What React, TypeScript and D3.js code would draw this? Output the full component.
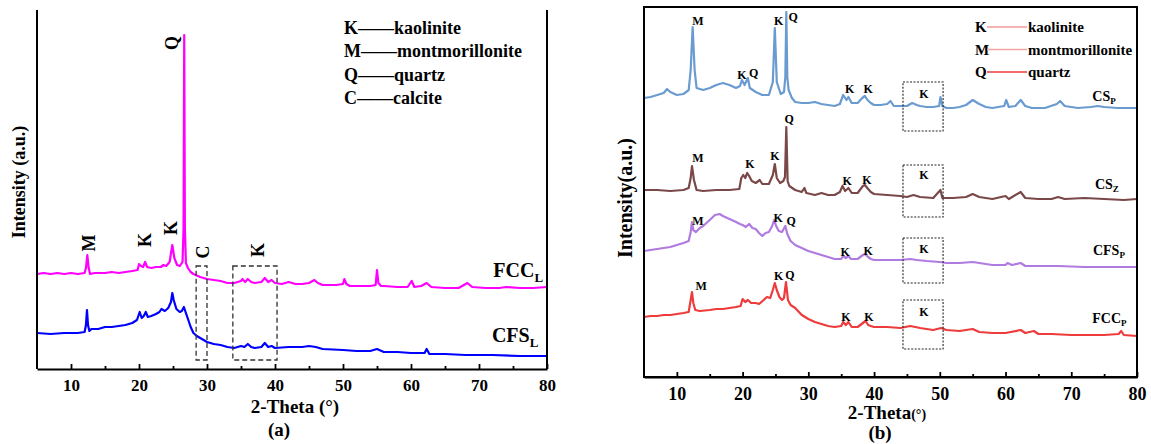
import React, { useEffect, useRef } from "react";
import * as d3 from "d3";

type Pt = [number, number];

const FONT = "'Times New Roman', 'Liberation Serif', serif";

// ---- panel (a): 2-theta (deg) vs intensity (a.u., stacked offset included)
const fccL: Pt[] = [
  [5, 95], [6, 96], [7, 95], [8, 96], [9, 95], [10, 96], [11, 95], [12, 96],
  [12.2, 101], [12.4, 114], [12.6, 101], [12.8, 95], [13.5, 96], [15, 96], [16, 97],
  [17, 96], [18, 97], [19, 98], [19.8, 99], [20.0, 105], [20.3, 103], [20.6, 102],
  [20.9, 107], [21.2, 102], [21.8, 101], [22.5, 102], [23.2, 102], [23.6, 104], [24, 103],
  [24.5, 107], [24.9, 124], [25.2, 111], [25.6, 104], [26.0, 103], [26.4, 107],
  [26.55, 140], [26.65, 334], [26.75, 140], [26.9, 106], [27.2, 101], [27.6, 97],
  [28, 95], [29, 92], [30, 90], [31, 89], [32, 88], [33, 86], [34, 86], [35, 88],
  [35.2, 90], [35.6, 87], [36, 90], [36.5, 87], [37, 86], [38, 87], [38.5, 91], [39, 87],
  [39.5, 89], [40, 86], [41, 85], [42, 87], [43, 85], [44, 85], [45, 86], [45.8, 89],
  [46.3, 86], [47, 84], [48, 84], [49, 84], [50, 85], [50.2, 90], [50.5, 85], [51, 83],
  [52, 83], [53, 83], [54, 83], [54.8, 84], [55, 99], [55.2, 86], [55.6, 83], [56, 83],
  [58, 82], [59.5, 82], [60.1, 88], [60.5, 82], [61.5, 83], [62.3, 86], [63, 82],
  [65, 81], [67, 81], [68.3, 86], [69, 82], [71, 81], [73, 81], [74, 82], [76, 81],
  [78, 81], [80, 82],
];

const cfsL: Pt[] = [
  [5, 36], [7, 35], [9, 36], [11, 36], [12, 37], [12.2, 44], [12.35, 59], [12.5, 44],
  [12.7, 38], [13, 40], [14, 40], [15, 42], [16, 42], [17, 43], [18, 44], [19, 46],
  [19.7, 49], [20.1, 57], [20.4, 51], [20.7, 53], [21.0, 57], [21.3, 52], [21.8, 53],
  [22.5, 55], [23, 57], [23.3, 60], [23.8, 58], [24.3, 61], [24.7, 67], [24.9, 76],
  [25.1, 69], [25.5, 60], [26, 57], [26.3, 58], [26.6, 62], [26.9, 56], [27.2, 50],
  [27.6, 42], [28, 36], [28.5, 33], [29, 31], [30, 27], [31, 25], [32, 24], [33, 22],
  [34, 21], [35, 23], [35.5, 22], [36, 25], [36.5, 22], [37, 21], [38, 22], [38.5, 26],
  [39, 22], [39.5, 23], [40, 21], [42, 22], [44, 22], [45, 23], [46, 22], [47, 20],
  [50, 19], [52, 18], [54, 18], [55, 20], [56, 17], [58, 17], [60, 16], [62, 16],
  [62.3, 20], [62.7, 15], [65, 15], [68, 14], [72, 14], [76, 13], [80, 13],
];

// ---- panel (b)
const csP: Pt[] = [
  [5, 279], [6, 280], [7, 282], [8, 284], [8.5, 288], [9, 285], [10, 282], [11, 283],
  [11.8, 287], [12.1, 307], [12.4, 350], [12.7, 307], [13.0, 289], [14, 287], [15, 289],
  [16, 292], [17, 294], [18, 292], [19, 289], [19.6, 291], [19.9, 297], [20.3, 292],
  [20.8, 299], [21.1, 289], [22, 285], [23, 282], [24, 282], [24.6, 295], [24.9, 349],
  [25.2, 295], [25.8, 283], [26.3, 285], [26.5, 300], [26.65, 365], [26.8, 300],
  [27.0, 287], [27.5, 279], [28, 275], [29, 274], [30, 274], [31, 275], [32, 273],
  [33, 272], [34, 271], [34.8, 273], [35.3, 282], [35.8, 277], [36.1, 280], [36.6, 274],
  [37.5, 274], [38.2, 279], [38.6, 281], [39, 277], [39.5, 274], [40, 272], [41, 272],
  [42, 273], [42.5, 276], [43, 271], [44, 271], [45, 271], [45.8, 274], [46.5, 272],
  [47, 271], [48, 270], [49, 270], [49.9, 271], [50.1, 280], [50.4, 271], [51, 269],
  [52, 269], [53, 270], [54, 272], [55, 277], [56, 273], [57, 270], [58, 269],
  [59.8, 271], [60.1, 277], [60.5, 270], [61.5, 271], [62.3, 277], [63, 271], [64, 269],
  [66, 269], [67.8, 273], [68.3, 276], [69, 271], [71, 269], [73, 270], [74, 271],
  [75, 270], [77, 269], [80, 269],
];

const csZ: Pt[] = [
  [5, 187], [7, 187], [9, 186], [11, 187], [11.8, 189], [12.1, 199], [12.3, 211],
  [12.6, 197], [13, 187], [14, 186], [16, 187], [18, 187], [19.5, 188], [19.8, 199],
  [20.1, 202], [20.4, 199], [20.7, 204], [21.0, 201], [21.4, 196], [22, 194], [22.6, 197],
  [23, 193], [24, 193], [24.6, 202], [24.9, 213], [25.2, 199], [25.7, 194], [26.2, 196],
  [26.45, 200], [26.65, 250], [26.85, 196], [27.1, 191], [28, 187], [29, 185], [29.4, 189],
  [29.7, 184], [31, 182], [32, 184], [33, 182], [34, 182], [34.8, 185], [35.2, 191],
  [35.6, 186], [36.1, 189], [36.6, 184], [37.5, 184], [38.3, 191], [38.6, 192], [39.1, 188],
  [39.5, 185], [40, 183], [42, 182], [44, 181], [45, 180], [46, 182], [47, 180], [49, 179],
  [50.1, 187], [50.4, 179], [52, 179], [54, 180], [55, 183], [56, 180], [58, 178],
  [60, 181], [60.5, 178], [62.3, 185], [63, 179], [65, 178], [67, 178], [68, 180],
  [69, 178], [72, 179], [75, 178], [78, 177], [80, 178],
];

const cfsP: Pt[] = [
  [5, 126], [6, 127], [7, 128], [8, 129], [9, 130], [10, 132], [11, 134], [11.8, 136],
  [12.1, 145], [12.3, 155], [12.5, 147], [12.9, 145], [13.5, 149], [14, 151], [15, 157],
  [15.8, 162], [16.5, 163], [17, 161], [18, 158], [19, 155], [19.6, 153], [20, 152],
  [20.5, 150], [21, 153], [21.5, 149], [22, 148], [22.5, 144], [23, 141], [23.5, 144],
  [24, 145], [24.5, 151], [24.8, 157], [25.1, 151], [25.5, 146], [26, 145], [26.5, 151],
  [26.8, 143], [27.3, 136], [28, 132], [29, 129], [30, 126], [31, 124], [32, 122],
  [33, 120], [34, 118], [35, 118], [35.3, 121], [35.7, 119], [36.1, 121], [36.5, 118],
  [37.5, 118], [38.3, 122], [38.6, 123], [39.1, 120], [39.5, 118], [40, 117], [42, 117],
  [44, 117], [45.5, 118], [46.5, 117], [48, 116], [50, 115], [51, 114], [53, 114],
  [55, 115], [56, 114], [58, 112], [60, 112], [60.3, 114], [61, 112], [62.3, 114],
  [63, 111], [65, 111], [68, 111], [72, 110], [76, 110], [80, 110],
];

const fccP: Pt[] = [
  [5, 60], [6, 61], [7, 61], [8, 62], [9, 62], [10, 63], [11, 64], [11.8, 65], [12.1, 77],
  [12.3, 85], [12.5, 74], [12.8, 67], [13.5, 66], [15, 67], [16, 68], [17, 68], [18, 69],
  [19, 70], [19.7, 71], [20, 78], [20.4, 75], [20.8, 77], [21.3, 74], [22, 74], [22.5, 73],
  [23.2, 77], [23.7, 80], [24.2, 79], [24.6, 87], [24.9, 94], [25.2, 87], [25.6, 80],
  [26, 77], [26.3, 79], [26.6, 95], [26.9, 77], [27.3, 72], [28, 69], [29, 62], [30, 58],
  [31, 55], [32, 53], [33, 51], [34, 50], [35, 51], [35.3, 55], [35.7, 52], [36.1, 55],
  [36.6, 50], [37.5, 50], [38.3, 54], [38.7, 56], [39.1, 52], [39.5, 51], [40, 50],
  [42, 50], [44, 49], [45.5, 51], [47, 49], [49, 47], [50.2, 49], [51, 47], [53, 46],
  [55, 48], [56, 45], [58, 44], [60, 44], [62.3, 47], [63, 44], [64.3, 46], [65, 43],
  [67, 43], [70, 42], [72, 42], [75, 42], [77.2, 43], [77.6, 46], [78, 42], [80, 41],
];

const xTicks = [10, 20, 30, 40, 50, 60, 70, 80];
const xMinorTicks = [15, 25, 35, 45, 55, 65, 75];

// peak labels [text, 2-theta, intensity]
const peaksA: [string, number, number][] = [
  ["M", 12.65, 126], ["K", 20.9, 129], ["K", 24.7, 141], ["Q", 24.85, 326],
  ["C", 29.4, 117], ["K", 37.5, 119],
];
const peaksB: [string, number, number][] = [
  ["M", 13.2, 352], ["K", 19.9, 298], ["Q", 21.7, 300], ["K", 25.5, 352], ["Q", 27.7, 356],
  ["K", 36.3, 284], ["K", 39.1, 284], ["K", 47.6, 279],
  ["M", 13.2, 215], ["K", 21.1, 209], ["K", 24.9, 217], ["Q", 27.1, 254],
  ["K", 35.9, 192], ["K", 38.9, 193], ["K", 47.6, 198],
  ["M", 13.2, 152], ["K", 25.4, 155], ["Q", 27.4, 152],
  ["K", 35.6, 121], ["K", 39.1, 122], ["K", 47.6, 124],
  ["M", 13.7, 87], ["K", 25.5, 97], ["Q", 27.2, 98],
  ["K", 35.7, 56], ["K", 39.2, 56], ["K", 47.6, 61],
];

// highlighted regions [x0, x1, y0, y1]
const boxesA: [number, number, number, number][] = [
  [28.4, 30, 9, 103],
  [33.8, 40.3, 9, 103],
];
const boxesB: [number, number, number, number][] = [
  [44.4, 50.5, 246, 295],
  [44.4, 50.5, 160, 212],
  [44.4, 50.5, 94, 139],
  [44.4, 50.5, 28, 77],
];

const legendA = ["K——kaolinite", "M——montmorillonite", "Q——quartz", "C——calcite"];
const legendBKeys = ["K", "M", "Q"];
const legendBNames = ["kaolinite", "montmorillonite", "quartz"];
const legendBColors = ["#f29a9a", "#f2a4a4", "#f03c3c"];

const seriesA = [
  { data: fccL, color: "#ff00ff", name: "FCC", sub: "L", lx: 72.1, ly: 92 },
  { data: cfsL, color: "#0000ff", name: "CFS", sub: "L", lx: 71.9, ly: 27 },
];
const seriesB = [
  { data: csP, color: "#6a9bd0", name: "CS", sub: "P", lx: 73.2, ly: 276 },
  { data: csZ, color: "#7a4848", name: "CS", sub: "Z", lx: 73.6, ly: 188 },
  { data: cfsP, color: "#b07be0", name: "CFS", sub: "P", lx: 73.3, ly: 122 },
  { data: fccP, color: "#ee3b3b", name: "FCC", sub: "P", lx: 73.2, ly: 54 },
];

const App = () => {
  const ref = useRef<SVGSVGElement>(null);

  useEffect(() => {
    draw();
  }, []);

  const bottomAxis = (svg: any, x: any, y0: number, fs: number, pad: number) => {
    const g = svg
      .append("g")
      .attr("transform", `translate(0,${y0})`)
      .call(d3.axisBottom(x).tickValues(xTicks).tickSizeInner(-5).tickSizeOuter(0).tickPadding(pad));
    g.attr("font-family", FONT).attr("font-size", fs).attr("font-weight", "bold");
    g.select(".domain").attr("stroke-width", 2);
    g.selectAll(".tick line").attr("stroke-width", 1.8);
    const m = svg
      .append("g")
      .attr("transform", `translate(0,${y0})`)
      .call(d3.axisBottom(x).tickValues(xMinorTicks).tickSize(-3).tickFormat(() => ""));
    m.select(".domain").remove();
    m.selectAll(".tick line").attr("stroke-width", 1.8);
  };

  const draw = () => {
    const svg = d3.select(ref.current);
    svg.selectAll("*").remove();

    // ================= panel (a)
    const xa = d3.scaleLinear().domain([5, 80]).range([37, 547]);
    const ya = d3.scaleLinear().domain([0, 359]).range([369, 10]);
    const lineA = d3
      .line<Pt>()
      .x((d) => xa(d[0]))
      .y((d) => ya(d[1]));

    seriesA.forEach((s) => {
      svg
        .append("path")
        .datum(s.data)
        .attr("fill", "none")
        .attr("stroke", s.color)
        .attr("stroke-width", 2.2)
        .attr("stroke-linejoin", "round")
        .attr("d", lineA);
      const t = svg
        .append("text")
        .attr("x", xa(s.lx))
        .attr("y", ya(s.ly))
        .attr("font-family", FONT)
        .attr("font-weight", "bold")
        .attr("font-size", 20)
        .text(s.name);
      t.append("tspan").attr("font-size", 13).attr("dy", 5).text(s.sub);
    });

    boxesA.forEach((b) => {
      svg
        .append("rect")
        .attr("x", xa(b[0]))
        .attr("y", ya(b[3]))
        .attr("width", xa(b[1]) - xa(b[0]))
        .attr("height", ya(b[2]) - ya(b[3]))
        .attr("fill", "none")
        .attr("stroke", "#333")
        .attr("stroke-width", 1.3)
        .attr("stroke-dasharray", "5,3");
    });

    peaksA.forEach((p) => {
      const px = xa(p[1]);
      const py = ya(p[2]);
      svg
        .append("text")
        .attr("transform", `translate(${px},${py}) rotate(-90)`)
        .attr("text-anchor", "middle")
        .attr("dominant-baseline", "central")
        .attr("font-family", FONT)
        .attr("font-weight", "bold")
        .attr("font-size", 18)
        .text(p[0]);
    });

    // frame: left, right, bottom
    svg.append("line").attr("x1", 37).attr("x2", 37).attr("y1", 10).attr("y2", 369).attr("stroke", "#000").attr("stroke-width", 2);
    svg.append("line").attr("x1", 547).attr("x2", 547).attr("y1", 10).attr("y2", 369).attr("stroke", "#000").attr("stroke-width", 2);
    bottomAxis(svg, xa, 369, 17, 10);

    legendA.forEach((t, i) => {
      svg
        .append("text")
        .attr("x", 344)
        .attr("y", 34 + i * 23.3)
        .attr("font-family", FONT)
        .attr("font-weight", "bold")
        .attr("font-size", 18)
        .text(t);
    });

    svg
      .append("text")
      .attr("x", 295)
      .attr("y", 413)
      .attr("text-anchor", "middle")
      .attr("font-family", FONT)
      .attr("font-weight", "bold")
      .attr("font-size", 19)
      .text("2-Theta (°)");
    svg
      .append("text")
      .attr("x", 279)
      .attr("y", 436)
      .attr("text-anchor", "middle")
      .attr("font-family", FONT)
      .attr("font-weight", "bold")
      .attr("font-size", 19)
      .text("(a)");
    svg
      .append("text")
      .attr("transform", "translate(19,182) rotate(-90)")
      .attr("text-anchor", "middle")
      .attr("dominant-baseline", "central")
      .attr("font-family", FONT)
      .attr("font-weight", "bold")
      .attr("font-size", 18)
      .text("Intensity (a.u.)");

    // ================= panel (b)
    const xb = d3.scaleLinear().domain([5, 80]).range([644, 1137]);
    const yb = d3.scaleLinear().domain([0, 370]).range([377, 7]);
    const lineB = d3
      .line<Pt>()
      .x((d) => xb(d[0]))
      .y((d) => yb(d[1]));

    seriesB.forEach((s) => {
      svg
        .append("path")
        .datum(s.data)
        .attr("fill", "none")
        .attr("stroke", s.color)
        .attr("stroke-width", 2.2)
        .attr("stroke-linejoin", "round")
        .attr("d", lineB);
      const t = svg
        .append("text")
        .attr("x", xb(s.lx))
        .attr("y", yb(s.ly))
        .attr("font-family", FONT)
        .attr("font-weight", "bold")
        .attr("font-size", 14)
        .text(s.name);
      t.append("tspan").attr("font-size", 9).attr("dy", 3).text(s.sub);
    });

    boxesB.forEach((b) => {
      svg
        .append("rect")
        .attr("x", xb(b[0]))
        .attr("y", yb(b[3]))
        .attr("width", xb(b[1]) - xb(b[0]))
        .attr("height", yb(b[2]) - yb(b[3]))
        .attr("fill", "none")
        .attr("stroke", "#222")
        .attr("stroke-width", 1.1)
        .attr("stroke-dasharray", "2,1.5");
    });

    peaksB.forEach((p) => {
      svg
        .append("text")
        .attr("x", xb(p[1]))
        .attr("y", yb(p[2]))
        .attr("text-anchor", "middle")
        .attr("font-family", FONT)
        .attr("font-weight", "bold")
        .attr("font-size", 12)
        .text(p[0]);
    });

    svg
      .append("rect")
      .attr("x", 644)
      .attr("y", 7)
      .attr("width", 1137 - 644)
      .attr("height", 377 - 7)
      .attr("fill", "none")
      .attr("stroke", "#000")
      .attr("stroke-width", 2);
    bottomAxis(svg, xb, 377, 18, 10);

    legendBKeys.forEach((k, i) => {
      const cy = 27 + i * 22.5;
      svg
        .append("text")
        .attr("x", 975)
        .attr("y", cy + 5)
        .attr("font-family", FONT)
        .attr("font-weight", "bold")
        .attr("font-size", 15)
        .text(k);
      svg
        .append("line")
        .attr("x1", 987)
        .attr("x2", 1027)
        .attr("y1", cy)
        .attr("y2", cy)
        .attr("stroke", legendBColors[i])
        .attr("stroke-width", 1.3);
      svg
        .append("text")
        .attr("x", 1028)
        .attr("y", cy + 5)
        .attr("font-family", FONT)
        .attr("font-weight", "bold")
        .attr("font-size", 15)
        .text(legendBNames[i]);
    });

    const xt = svg
      .append("text")
      .attr("x", 887)
      .attr("y", 419)
      .attr("text-anchor", "middle")
      .attr("font-family", FONT)
      .attr("font-weight", "bold")
      .attr("font-size", 19)
      .text("2-Theta");
    xt.append("tspan").attr("font-size", 14).text("(°)");
    svg
      .append("text")
      .attr("x", 880)
      .attr("y", 439)
      .attr("text-anchor", "middle")
      .attr("font-family", FONT)
      .attr("font-weight", "bold")
      .attr("font-size", 19)
      .text("(b)");
    svg
      .append("text")
      .attr("transform", "translate(625,198) rotate(-90)")
      .attr("text-anchor", "middle")
      .attr("dominant-baseline", "central")
      .attr("font-family", FONT)
      .attr("font-weight", "bold")
      .attr("font-size", 20)
      .text("Intensity(a.u.)");
  };

  return (
    <div style={{ position: "absolute", left: 0, top: 0, width: 1151, height: 444, background: "#fff" }}>
      <svg ref={ref} width={1151} height={444} style={{ display: "block" }} />
    </div>
  );
};

export default App;
